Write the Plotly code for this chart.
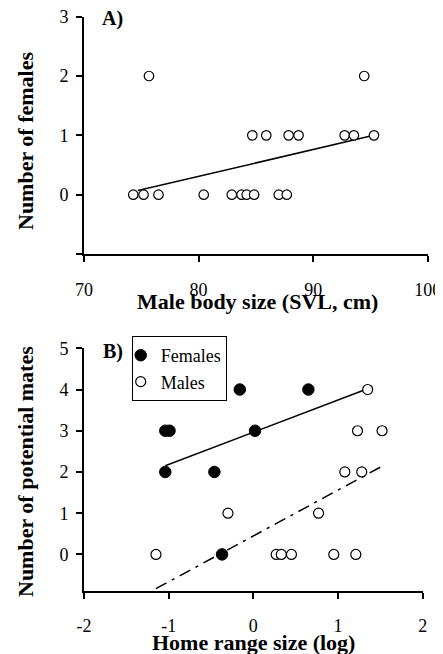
import plotly.graph_objects as go

# ---- Panel A data ----
a_size = [75.67, 94.46,
          84.69, 85.91, 87.86, 88.73, 92.75, 93.56, 95.31,
          74.3, 75.2, 76.5, 80.45, 82.9, 83.75, 84.2, 84.85, 87.0, 87.7]
a_females = [2, 2,
             1, 1, 1, 1, 1, 1, 1,
             0, 0, 0, 0, 0, 0, 0, 0, 0, 0]
a_fit_x = [74.7, 95.3]
a_fit_y = [0.07, 1.0]

# ---- Panel B data ----
b_fem_x = [-1.04, -1.04, -0.99, -0.16, 0.65, 0.02, -0.46, -0.37]
b_fem_y = [2, 3, 3, 4, 4, 3, 2, 0]
b_mal_x = [1.35, 1.23, 1.52, 1.08, 1.28, -0.30, 0.77, -1.15, 0.27, 0.33, 0.45, 0.95, 1.21]
b_mal_y = [4, 3, 3, 2, 2, 1, 1, 0, 0, 0, 0, 0, 0]
b_fem_fit_x = [-1.04, 1.31]
b_fem_fit_y = [2.15, 3.99]
b_mal_fit_x = [-1.15, 1.53]
b_mal_fit_y = [-0.83, 2.15]

a_xticks = [70, 80, 90, 100]
a_yticks = [-1, 0, 1, 2, 3]
a_yticklabels = ["", "0", "1", "2", "3"]
b_xticks = [-2, -1, 0, 1, 2]
b_xticklabels = ["-2", "-1", "0", "1", "2"]
b_yticks = [0, 1, 2, 3, 4, 5]

FONT = "Liberation Serif, Times New Roman, serif"
VW, VH = 443, 654          # browser window
OX, OY = 8, 8              # page body margin
FW, FH = VW - OX, VH - OY  # figure size


def xp(px):
    return (px - OX) / FW


def yp(py):
    return 1 - (py - OY) / FH


fig = go.Figure()

open_marker_a = dict(symbol="circle", size=9.5, color="white", line=dict(color="black", width=1.2))
open_marker_b = dict(symbol="circle", size=10, color="white", line=dict(color="black", width=1.2))
fill_marker = dict(symbol="circle", size=11.5, color="black", line=dict(color="black", width=1))

fig.add_trace(go.Scatter(x=a_fit_x, y=a_fit_y, mode="lines", line=dict(color="black", width=1.5),
                         xaxis="x", yaxis="y", showlegend=False, hoverinfo="skip"))
fig.add_trace(go.Scatter(x=a_size, y=a_females, mode="markers", marker=open_marker_a,
                         xaxis="x", yaxis="y", showlegend=False))

fig.add_trace(go.Scatter(x=b_fem_fit_x, y=b_fem_fit_y, mode="lines", line=dict(color="black", width=1.5),
                         xaxis="x2", yaxis="y2", showlegend=False, hoverinfo="skip"))
fig.add_trace(go.Scatter(x=b_mal_fit_x, y=b_mal_fit_y, mode="lines",
                         line=dict(color="black", width=1.5, dash="12px,6px,3px,6px"),
                         xaxis="x2", yaxis="y2", showlegend=False, hoverinfo="skip"))
fig.add_trace(go.Scatter(x=b_fem_x, y=b_fem_y, mode="markers", marker=fill_marker, name="Females",
                         xaxis="x2", yaxis="y2"))
fig.add_trace(go.Scatter(x=b_mal_x, y=b_mal_y, mode="markers", marker=open_marker_b, name="Males",
                         xaxis="x2", yaxis="y2"))

axis_common = dict(showline=True, linecolor="black", linewidth=2, ticks="outside", ticklen=6,
                   tickwidth=2, tickcolor="black", showgrid=False, zeroline=False, automargin=False,
                   ticklabeloverflow="allow",
                   tickfont=dict(family=FONT, size=18, color="black"))


def label(text, x, y, angle=0, size=22):
    return dict(text=text, x=xp(x), y=yp(y), xref="paper", yref="paper",
                xanchor="center", yanchor="middle", showarrow=False, textangle=angle,
                font=dict(family=FONT, size=size, color="black"))


fig.update_layout(
    template="none",
    width=FW, height=FH,
    margin=dict(l=0, r=0, t=0, b=0),
    paper_bgcolor="white", plot_bgcolor="white",
    font=dict(family=FONT, color="black"),
    xaxis=dict(domain=[xp(84), xp(427.7)], range=[70, 100], tickvals=a_xticks, anchor="y",
               ticklabelstandoff=12, **axis_common),
    yaxis=dict(domain=[yp(254), yp(16.7)], range=[-1, 3], tickvals=a_yticks, ticktext=a_yticklabels,
               anchor="x", ticklabelstandoff=4, **axis_common),
    xaxis2=dict(domain=[xp(84), xp(422.7)], range=[-2, 2], tickvals=b_xticks, ticktext=b_xticklabels,
                anchor="y2", ticklabelstandoff=12, **axis_common),
    yaxis2=dict(domain=[yp(590.7), yp(348.3)], range=[-0.88, 5], tickvals=b_yticks, anchor="x2",
                ticklabelstandoff=4, **axis_common),
    legend=dict(x=xp(131.7), y=yp(336), xanchor="left", yanchor="top",
                bordercolor="black", borderwidth=1, bgcolor="white",
                font=dict(family=FONT, size=18, color="black"),
                itemwidth=30, indentation=-12, tracegroupgap=0),
    annotations=[
        label("<b>A)</b>", 112.5, 18.5, size=20),
        label("<b>B)</b>", 112.5, 351, size=20),
        label("<b>Male body size (SVL, cm)</b>", 257, 301),
        label("<b>Number of females</b>", 25.5, 141.5, angle=-90),
        label("<b>Home range size (log)</b>", 253.5, 642),
        label("<b>Number of potential mates</b>", 25, 472, angle=-90),
    ],
)

fig.write_html("out.html")
